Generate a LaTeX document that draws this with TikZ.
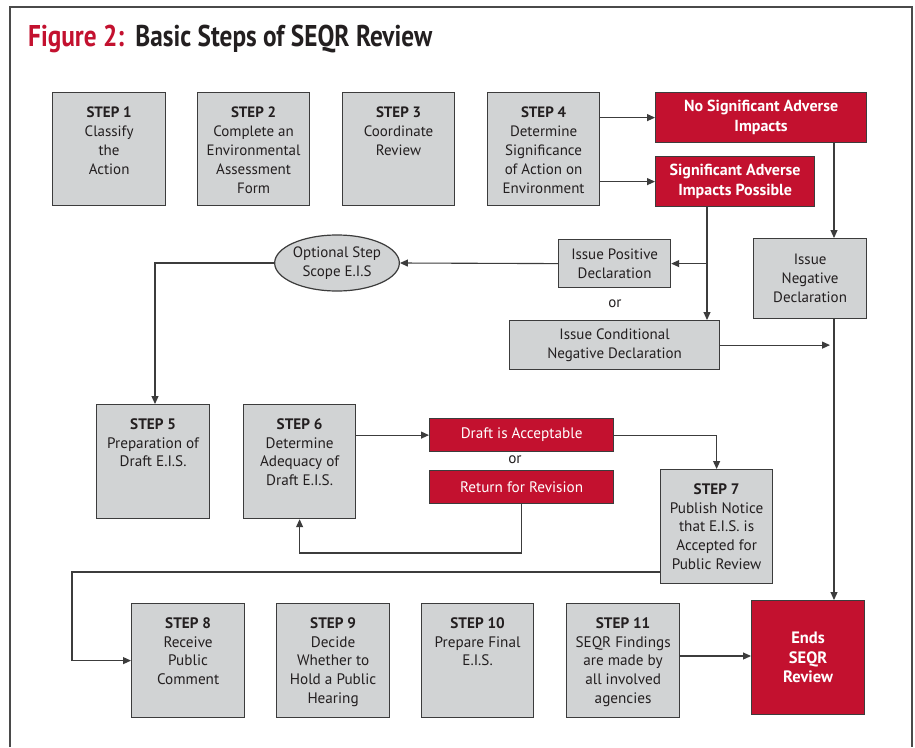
\documentclass[tikz,border=0pt]{standalone}
\usepackage{fontspec}
\usepackage{graphicx}
\setmainfont{PT Sans}
\usetikzlibrary{arrows.meta,shapes.geometric}
\definecolor{sred}{HTML}{C3112F}
\definecolor{boxgray}{HTML}{D1D3D4}
\definecolor{edge}{HTML}{3C3C3C}
\definecolor{ink}{HTML}{231F20}
\definecolor{framec}{HTML}{4A4A4A}
\newcommand{\basefont}{\fontsize{15}{19}\selectfont}
\newcommand{\redfont}{\fontsize{16}{19.5}\selectfont\bfseries}
\newcommand{\lowfont}{\fontsize{15.2}{18.7}\selectfont}
\newcommand{\bxtxt}[3]{\parbox[c][#2pt][t]{#1pt}{\centering\vspace*{14pt}#3\par}}
\begin{document}
\begin{tikzpicture}[x=1pt,y=-1pt,
  stepbox/.style={draw=edge, line width=1.2pt, fill=boxgray, text=ink, inner sep=0pt, anchor=north west, font=\basefont},
  lowbox/.style={stepbox, font=\lowfont},
  graybox/.style={draw=edge, line width=1.2pt, fill=boxgray, text=ink, align=center, inner sep=0pt, anchor=north west, font=\basefont},
  redbox/.style={draw=edge, line width=1.2pt, fill=sred, text=white, align=center, inner sep=0pt, anchor=north west, font=\redfont},
  lowred/.style={redbox, font=\lowfont},
  ln/.style={draw=edge, line width=1.1pt},
  arr/.style={ln, -{Triangle[length=8pt,width=7pt]}}
]
\useasboundingbox (0,0) rectangle (915,747);
\fill[white] (0,0) rectangle (915,747);
\draw[framec, line width=1.5pt] (10,747) -- (10,7) -- (912,7) -- (912,747);

\node[anchor=base west, inner sep=0pt] (title) at (28,46)
  {\resizebox{404pt}{\height}{\fontsize{30}{30}\selectfont\bfseries\textcolor{sred}{Figure 2:}\hspace{0.45em}\textcolor{ink}{Basic Steps of SEQR Review}}};

% row 1
\node[stepbox] (s1) at (52,92) {\bxtxt{113}{113}{\textbf{STEP 1}\\Classify\\the\\Action}};
\node[stepbox] (s2) at (197,92) {\bxtxt{112}{113}{\textbf{STEP 2}\\Complete an\\Environmental\\Assessment\\Form}};
\node[stepbox] (s3) at (342,92) {\bxtxt{112}{113}{\textbf{STEP 3}\\Coordinate\\Review}};
\node[stepbox] (s4) at (487,92) {\bxtxt{112}{113}{\textbf{STEP 4}\\Determine\\Significance\\of Action on\\Environment}};

\node[redbox, minimum width=211pt, minimum height=50pt] (nosig) at (655,92) {No Significant Adverse\\Impacts};
\node[redbox, minimum width=159pt, minimum height=50pt] (sigpos) at (655,156) {Significant Adverse\\Impacts Possible};

\node[graybox, minimum width=112pt, minimum height=48pt] (pos) at (558,239) {Issue Positive\\Declaration};
\node[graybox, minimum width=113pt, minimum height=80pt] (neg) at (753,238) {Issue\\Negative\\Declaration};
\node[graybox, minimum width=210pt, minimum height=49pt] (cond) at (509,320) {Issue Conditional\\Negative Declaration};
\node[font=\basefont, text=ink, inner sep=0pt] (or1) at (615,303.5) {or};

\node[ellipse, draw=edge, line width=1.2pt, fill=boxgray, text=ink, minimum width=116pt, minimum height=56pt, inner sep=0pt, align=center, font=\basefont] (opt) at (337,263) {Optional Step\\Scope E.I.S};

% row 2
\node[lowbox] (s5) at (96,404) {\bxtxt{113}{114}{\textbf{STEP 5}\\Preparation of\\Draft E.I.S.}};
\node[lowbox] (s6) at (243,404) {\bxtxt{112}{114}{\textbf{STEP 6}\\Determine\\Adequacy of\\Draft E.I.S.}};
\node[lowred, minimum width=184pt, minimum height=33pt] (draft) at (429,418) {Draft is Acceptable};
\node[font=\lowfont, text=ink, inner sep=0pt] (or2) at (515,459.5) {or};
\node[lowred, minimum width=184pt, minimum height=33pt] (rev) at (429,470) {Return for Revision};
\node[lowbox] (s7) at (660,469) {\bxtxt{112}{114}{\textbf{STEP 7}\\Publish Notice\\that E.I.S. is\\Accepted for\\Public Review}};

% row 3
\node[lowbox] (s8) at (131,603) {\bxtxt{113}{114}{\textbf{STEP 8}\\Receive\\Public\\Comment}};
\node[lowbox] (s9) at (276,603) {\bxtxt{113}{114}{\textbf{STEP 9}\\Decide\\Whether to\\Hold a Public\\Hearing}};
\node[lowbox] (s10) at (421,603) {\bxtxt{112}{114}{\textbf{STEP 10}\\Prepare Final\\E.I.S.}};
\node[lowbox] (s11) at (566,603) {\bxtxt{113}{114}{\textbf{STEP 11}\\SEQR Findings\\are made by\\all involved\\agencies}};
\node[redbox, font=\fontsize{16.5}{19.5}\selectfont\bfseries, minimum width=113pt, minimum height=114pt] (ends) at (751,600) {Ends\\SEQR\\Review};

% helper coordinates
\coordinate (jx) at (707,0);
\coordinate (nx) at (834,0);
\coordinate (ox) at (155,0);
\coordinate (lp) at (0,553);
\coordinate (lx) at (72,572);
\coordinate (ay) at (0,656);

% connectors
\draw[arr] (s4.east |- nosig.west) -- (nosig.west);
\draw[arr] (s4.east |- sigpos.west) -- (sigpos.west);
\draw[arr] (sigpos.south -| jx) -- (cond.north -| jx);
\draw[arr] (jx |- pos.east) -- (pos.east);
\draw[arr] (nosig.south -| nx) -- (neg.north -| nx);
\draw[arr] (neg.south -| nx) -- (ends.north -| nx);
\draw[arr, shorten >=4pt] (cond.east) -- (nx |- cond.east);
\draw[arr] (pos.west) -- (opt.east);
\draw[arr] (opt.west) -| (ox |- s5.north);
\draw[arr] (s6.east |- draft.west) -- (draft.west);
\draw[arr] (draft.east) -| (s7.north);
\draw[arr] (rev.south) -- (rev.south |- lp) -| (s6.south);
\draw[arr] (s7.west |- lx) -- (lx) |- (s8.west);
\draw[arr] (s11.east |- ay) -- (ends.west |- ay);
\end{tikzpicture}
\end{document}
